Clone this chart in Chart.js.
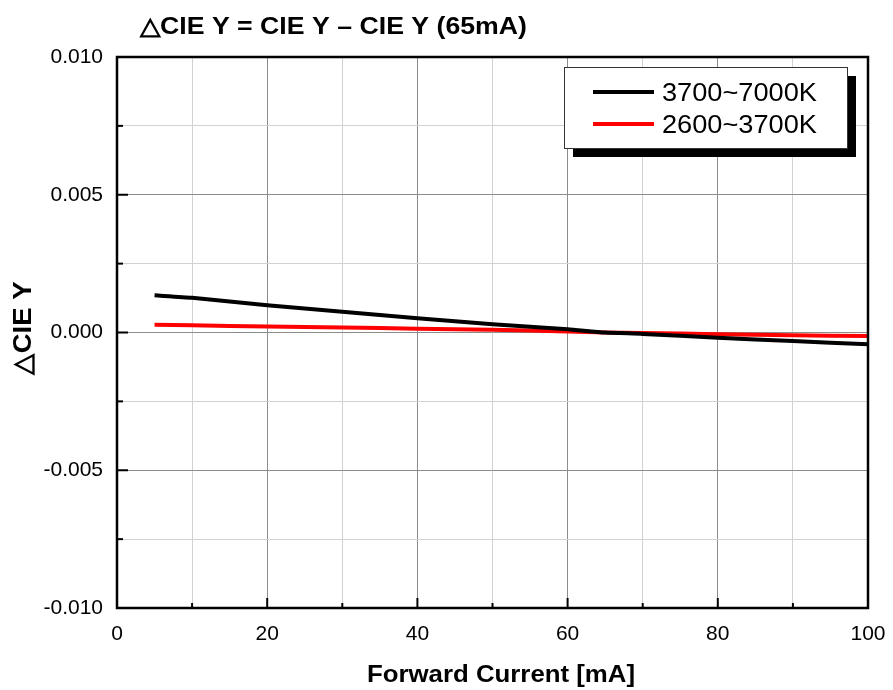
<!DOCTYPE html>
<html>
<head>
<meta charset="utf-8">
<script src="https://cdn.jsdelivr.net/npm/chart.js@4.4.1/dist/chart.umd.min.js"></script>
<style>
  html, body { margin: 0; padding: 0; background: #fff; }
  #wrap { width: 893px; height: 690px; }
</style>
</head>
<body>
<div id="wrap"><canvas id="graph" width="893" height="690"></canvas></div>
<script>
// forward current [mA]
let current = [5, 10, 20, 30, 40, 50, 60, 65, 70, 80, 90, 100];
// delta CIE y
let coolWhite = [0.00135, 0.00126, 0.00099, 0.00075, 0.00052, 0.0003, 0.00012, 0, -0.00005, -0.00019, -0.00031, -0.00043];
let warmWhite = [0.00028, 0.00026, 0.00022, 0.00018, 0.00014, 0.0001, 0.00004, 0, -0.00002, -0.00006, -0.0001, -0.00013];
let seriesNames = ["3700~7000K", "2600~3700K"];
let xTicks = [0, 20, 40, 60, 80, 100];
let yTicks = [-0.010, -0.005, 0.000, 0.005, 0.010];

const FONT = "'Liberation Sans', Arial, sans-serif";

function toPoints(xs, ys){
    let pts = [];
    for(let i = 0; i < xs.length; i++){
        pts.push({x: xs[i], y: ys[i]});
    }
    return pts;
}

function isMajor(list, v){
    for(let t of list){
        if(Math.abs(t - v) < 1e-9) return true;
    }
    return false;
}

// draw text squeezed/stretched to a given width
function fitText(ctx, text, x, y, font, width, align){
    ctx.save();
    ctx.font = font;
    let w = ctx.measureText(text).width;
    let k = width / w;
    ctx.translate(x, y);
    ctx.scale(k, 1);
    ctx.textAlign = align || "left";
    ctx.textBaseline = "alphabetic";
    ctx.fillText(text, 0, 0);
    ctx.restore();
}

const decor = {
    id: "decor",
    afterDraw(chart){
        const ctx = chart.ctx;
        const a = chart.chartArea;
        const xs = chart.scales.x;
        const ys = chart.scales.y;
        ctx.save();
        ctx.fillStyle = "#000";
        ctx.strokeStyle = "#000";

        // inward tick marks, left and bottom
        ctx.lineWidth = 2;
        for(let v = 0; v <= 100; v += 10){
            let px = xs.getPixelForValue(v);
            let len = isMajor(xTicks, v) ? 10 : 5;
            ctx.beginPath();
            ctx.moveTo(px, a.bottom);
            ctx.lineTo(px, a.bottom - len);
            ctx.stroke();
        }
        for(let i = -4; i <= 4; i++){
            let v = i * 0.0025;
            let py = ys.getPixelForValue(v);
            let len = isMajor(yTicks, v) ? 11 : 6;
            ctx.beginPath();
            ctx.moveTo(a.left, py);
            ctx.lineTo(a.left + len, py);
            ctx.stroke();
        }

        // frame
        ctx.lineWidth = 2.5;
        ctx.strokeRect(a.left, a.top, a.right - a.left, a.bottom - a.top);

        // legend with drop shadow
        let lx = 564, ly = 67, lw = 283, lh = 81;
        ctx.fillStyle = "#000";
        ctx.fillRect(lx + 9, ly + 9, lw, lh);
        ctx.fillStyle = "#fff";
        ctx.fillRect(lx, ly, lw, lh);
        ctx.lineWidth = 1;
        ctx.strokeStyle = "#333";
        ctx.strokeRect(lx + 0.5, ly + 0.5, lw, lh);
        let colors = ["#000000", "#ff0000"];
        let rows = [92, 124];
        ctx.lineWidth = 4;
        for(let i = 0; i < seriesNames.length; i++){
            ctx.strokeStyle = colors[i];
            ctx.beginPath();
            ctx.moveTo(593, rows[i]);
            ctx.lineTo(654, rows[i]);
            ctx.stroke();
            ctx.fillStyle = "#000";
            fitText(ctx, seriesNames[i], 662, rows[i] + 9, "25px " + FONT, 155, "left");
        }

        // titles
        ctx.fillStyle = "#000";
        fitText(ctx, "\u25B3CIE Y = CIE Y \u2013 CIE Y (65mA)", 140, 34, "bold 24px " + FONT, 387, "left");
        fitText(ctx, "Forward Current [mA]", 501, 682, "bold 24px " + FONT, 268, "center");
        ctx.save();
        ctx.translate(31, 328);
        ctx.rotate(-Math.PI / 2);
        fitText(ctx, "\u25B3CIE Y", 0, 0, "bold 26px " + FONT, 93, "center");
        ctx.restore();

        ctx.restore();
    }
};

const data = {
    datasets: [{
        label: seriesNames[0],
        data: toPoints(current, coolWhite),
        borderColor: "#000000",
        borderWidth: 4,
        pointRadius: 0,
        tension: 0.2,
        fill: false
    }, {
        label: seriesNames[1],
        data: toPoints(current, warmWhite),
        borderColor: "#ff0000",
        borderWidth: 4,
        pointRadius: 0,
        tension: 0.2,
        fill: false
    }]
};

const config = {
    type: "line",
    data: data,
    plugins: [decor],
    options: {
        responsive: false,
        animation: false,
        devicePixelRatio: 1,
        layout: {padding: {left: 0, top: 57, right: 25, bottom: 0}},
        plugins: {legend: {display: false}, title: {display: false}, tooltip: {enabled: false}},
        scales: {
            x: {
                type: "linear",
                min: 0,
                max: 100,
                afterFit: (s) => { s.height = 82; s.paddingLeft = 0; s.paddingRight = 0; },
                border: {display: false},
                grid: {
                    drawTicks: false,
                    lineWidth: 1,
                    color: (c) => isMajor(xTicks, c.tick.value) ? "#8c8c8c" : "#d2d2d2"
                },
                ticks: {
                    stepSize: 10,
                    padding: 14,
                    color: "#000",
                    font: {family: FONT, size: 21},
                    maxRotation: 0,
                    autoSkip: false,
                    callback: (v) => isMajor(xTicks, v) ? String(v) : ""
                }
            },
            y: {
                min: -0.010,
                max: 0.010,
                afterFit: (s) => { s.width = 117; s.paddingTop = 0; s.paddingBottom = 0; },
                border: {display: false},
                grid: {
                    drawTicks: false,
                    lineWidth: 1,
                    color: (c) => isMajor(yTicks, c.tick.value) ? "#8c8c8c" : "#d2d2d2"
                },
                ticks: {
                    stepSize: 0.0025,
                    padding: 14,
                    color: "#000",
                    font: {family: FONT, size: 21},
                    autoSkip: false,
                    callback: (v) => isMajor(yTicks, v) ? v.toFixed(3) : ""
                }
            }
        }
    }
};

let myChart = new Chart(document.getElementById("graph"), config);
</script>
</body>
</html>
